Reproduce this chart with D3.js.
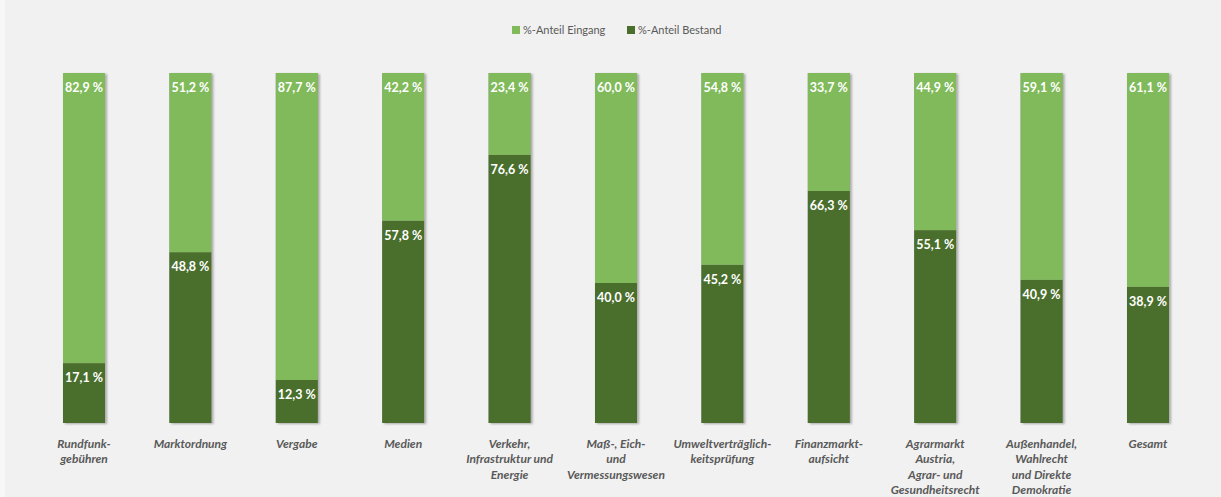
<!DOCTYPE html>
<html>
<head>
<meta charset="utf-8">
<script src="https://cdn.jsdelivr.net/npm/d3@7"></script>
<style>
  html, body { margin: 0; padding: 0; background: #f7f7f7; }
  #chart { font-family: Lato, "Noto Sans", sans-serif; }
</style>
</head>
<body>
<div id="chart"></div>
<script>
var categories = [
    ["Rundfunk-", "gebühren"],
    ["Marktordnung"],
    ["Vergabe"],
    ["Medien"],
    ["Verkehr,", "Infrastruktur und", "Energie"],
    ["Maß-, Eich-", "und", "Vermessungswesen"],
    ["Umweltverträglich-", "keitsprüfung"],
    ["Finanzmarkt-", "aufsicht"],
    ["Agrarmarkt", "Austria,", "Agrar- und", "Gesundheitsrecht"],
    ["Außenhandel,", "Wahlrecht", "und Direkte", "Demokratie"],
    ["Gesamt"]
];
var bestand = [17.1, 48.8, 12.3, 57.8, 76.6, 40.0, 45.2, 66.3, 55.1, 40.9, 38.9];
var eingang = [82.9, 51.2, 87.7, 42.2, 23.4, 60.0, 54.8, 33.7, 44.9, 59.1, 61.1];
var seriesNames = ["%-Anteil Eingang", "%-Anteil Bestand"];

var width = 1221, height = 497;
var colors = { eingang: "#80ba5a", bestand: "#4a6f2d" };

var svg = d3.select("#chart").append("svg")
    .attr("width", width)
    .attr("height", height);

var defs = svg.append("defs");
var shadow = defs.append("filter").attr("id", "shadow")
    .attr("x", "-20%").attr("y", "-5%").attr("width", "140%").attr("height", "110%");
shadow.append("feDropShadow")
    .attr("dx", 2).attr("dy", 1).attr("stdDeviation", 1.2)
    .attr("flood-color", "#000").attr("flood-opacity", 0.3);

svg.append("rect")
    .attr("x", 5).attr("y", 0)
    .attr("width", width - 5).attr("height", height)
    .attr("fill", "#f1f1f1");

var data = categories.map(function(c, i) {
    return { idx: i, label: c, bestand: bestand[i], eingang: eingang[i] };
});

var pi = 0.605;
var x = d3.scaleBand()
    .domain(d3.range(categories.length))
    .range([30.8, 1201.2])
    .paddingInner(pi)
    .paddingOuter(pi / 2);

var y = d3.scaleLinear().domain([0, 100]).range([423, 73]);

var stack = d3.stack().keys(["bestand", "eingang"]);
var layers = stack(data);

var g = svg.append("g");

var layer = g.selectAll(".layer")
    .data(layers)
    .enter().append("g")
    .attr("class", "layer")
    .attr("fill", function(d) { return colors[d.key]; });

// bar shadow drawn once per full bar
g.insert("g", ".layer").selectAll("rect")
    .data(data)
    .enter().append("rect")
    .attr("x", function(d) { return x(d.idx); })
    .attr("y", y(100))
    .attr("width", x.bandwidth())
    .attr("height", y(0) - y(100))
    .attr("fill", "#999")
    .attr("filter", "url(#shadow)");

layer.selectAll("rect")
    .data(function(d) { return d; })
    .enter().append("rect")
    .attr("x", function(d) { return x(d.data.idx); })
    .attr("y", function(d) { return y(d[1]); })
    .attr("width", x.bandwidth())
    .attr("height", function(d) { return y(d[0]) - y(d[1]); });

var fmt = function(v) { return d3.format(".1f")(v).replace(".", ",") + " %"; };

layer.selectAll("text")
    .data(function(d) { return d; })
    .enter().append("text")
    .attr("x", function(d) { return x(d.data.idx) + x.bandwidth() / 2; })
    .attr("y", function(d) { return y(d[1]) + 19; })
    .attr("text-anchor", "middle")
    .attr("fill", "#ffffff")
    .style("font-weight", "bold")
    .style("font-size", "12.5px")
    .text(function(d) { return fmt(d[1] - d[0]); });

// category labels
var cat = g.selectAll(".cat")
    .data(data)
    .enter().append("text")
    .attr("class", "cat")
    .attr("text-anchor", "middle")
    .attr("fill", "#595959")
    .style("font-style", "italic")
    .style("font-weight", "bold")
    .style("font-size", "12px");

cat.selectAll("tspan")
    .data(function(d) { return d.label.map(function(l) { return { t: l, i: d.idx }; }); })
    .enter().append("tspan")
    .attr("x", function(d) { return x(d.i) + x.bandwidth() / 2; })
    .attr("y", function(d, j) { return 448 + j * 15.3; })
    .text(function(d) { return d.t; });

// legend
var legend = svg.append("g").attr("transform", "translate(512,30)");
var legendItems = [
    { name: seriesNames[0], color: colors.eingang, x: 0 },
    { name: seriesNames[1], color: colors.bestand, x: 115 }
];
var li = legend.selectAll("g")
    .data(legendItems)
    .enter().append("g")
    .attr("transform", function(d) { return "translate(" + d.x + ",0)"; });
li.append("rect")
    .attr("x", 0).attr("y", -4)
    .attr("width", 8).attr("height", 8)
    .attr("fill", function(d) { return d.color; });
li.append("text")
    .attr("x", 11).attr("y", 4)
    .attr("fill", "#595959")
    .style("font-size", "11px")
    .text(function(d) { return d.name; });
</script>
</body>
</html>
